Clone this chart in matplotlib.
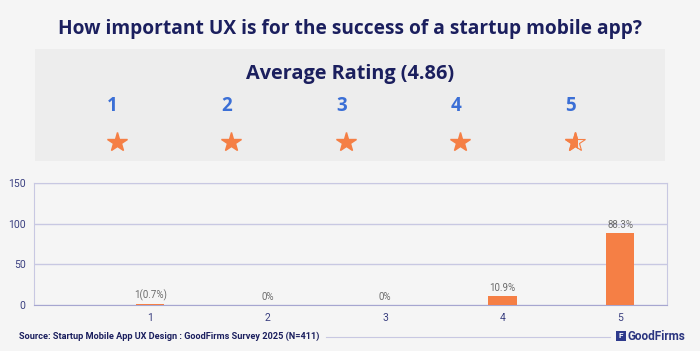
"""
How important UX is for the success of a startup mobile app?
评分柱状图 + 上方平均评分星级
"""

import matplotlib.pyplot as plt
from matplotlib.patches import Rectangle

# 数据
ratings = [1, 2, 3, 4, 5]
shares = [0.7, 0, 0, 10.9, 88.3]
bar_labels = ['1(0.7%)', '0%', '0%', '10.9%', '88.3%']
y_ticks = [0, 50, 100, 150]
avg_rating = 4.86

title = 'How important UX is for the success of a startup mobile app?'
source = 'Source: Startup Mobile App UX Design : GoodFirms Survey 2025 (N=411)'

BG = '#f5f5f5'
BOX = '#ededed'
NAVY = '#1b1f5e'
BLUE = '#3b6fd6'
ORANGE = '#f57f45'
GRID = '#c8c8e2'
TICK = '#3a3f80'
HEAD = 'Open Sans'

W, H = 700, 351
fig = plt.figure(figsize=(W / 100, H / 100), dpi=100, facecolor=BG)

# 标题
fig.text(0.5, 1 - 29 / H, title, ha='center', va='center', fontsize=13.8,
         fontweight='bold', color=NAVY, family=HEAD)

# 灰色评分框
fig.patches.append(Rectangle((35 / W, 1 - 161 / H), 630 / W, 112 / H,
                             transform=fig.transFigure, facecolor=BOX,
                             edgecolor='none', zorder=-1))
fig.text(0.5, 1 - 74 / H, f'Average Rating ({avg_rating})', ha='center',
         va='center', fontsize=14.3, fontweight='bold', color=NAVY,
         family=HEAD)

# 星星和数字
ax_s = fig.add_axes([35 / W, 1 - 161 / H, 630 / W, 112 / H])
ax_s.set_xlim(0.323, 5.83)
ax_s.set_ylim(0, 112)
ax_s.axis('off')
for r in ratings:
    ax_s.text(r, 112 - 57, str(r), ha='center', va='center', fontsize=13.5,
              fontweight='bold', color=BLUE, family=HEAD)
full = [r for r in ratings if r <= int(avg_rating)]
ax_s.plot([r + 0.04 for r in full], [112 - 93] * len(full), '*', ms=15,
          color=ORANGE, markeredgecolor=ORANGE)
last = ratings[-1] + 0.04
ax_s.plot([last], [112 - 93], '*', ms=15, markerfacecolor='none',
          markeredgecolor=ORANGE, markeredgewidth=0.8)
part, = ax_s.plot([last], [112 - 93], '*', ms=15, color=ORANGE,
                  markeredgecolor=ORANGE)
clip = Rectangle((last - 0.5, 0), 0.5 + 0.025, 112, transform=ax_s.transData)
part.set_clip_path(clip)

# 柱状图
ax = fig.add_axes([34 / W, 1 - 305 / H, 633 / W, 122 / H])
ax.set_facecolor(BG)
ax.bar(ratings, shares, width=0.24, color=ORANGE, zorder=3)
for r, v, lab in zip(ratings, shares, bar_labels):
    ax.annotate(lab, (r, v), xytext=(0, 2.5), textcoords='offset points',
                ha='center', va='bottom', fontsize=7, color='#6b6b6b',
                family='Roboto')
ax.set_xlim(0.01, 5.4)
ax.set_ylim(0, 150)
ax.set_yticks(y_ticks)
ax.set_xticks(ratings)
ax.yaxis.grid(True, color=GRID, lw=1, zorder=0)
for s in ['left', 'right', 'top']:
    ax.spines[s].set_color(GRID)
ax.spines['bottom'].set_color('#a6a6d0')
ax.tick_params(length=0, colors=TICK, labelsize=7.5)
ax.tick_params(axis='y', pad=6)
ax.tick_params(axis='x', pad=6)
for t in ax.get_xticklabels() + ax.get_yticklabels():
    t.set_family('Roboto')

# 底部来源和 logo
fig.text(19 / W, 1 - 336 / H, source, ha='left', va='center', fontsize=6.6,
         fontweight='bold', color=NAVY, family='Roboto')
fig.add_artist(plt.Line2D([326 / W, 610 / W], [1 - 336.5 / H] * 2,
                          transform=fig.transFigure, color=GRID, lw=0.8))
fig.patches.append(Rectangle((616 / W, 1 - 341 / H), 10 / W, 10 / H,
                             transform=fig.transFigure, facecolor='#2e3a8c',
                             edgecolor='none'))
fig.text(621 / W, 1 - 336 / H, 'F', ha='center', va='center', fontsize=6,
         fontweight='bold', color='white', family='Roboto')
fig.text(627 / W, 1 - 336 / H, 'GoodFirms', ha='left', va='center',
         fontsize=8.5, fontweight='bold', color='#2b3580', family='Roboto')

fig.savefig('out.png', dpi=100, facecolor=BG)
